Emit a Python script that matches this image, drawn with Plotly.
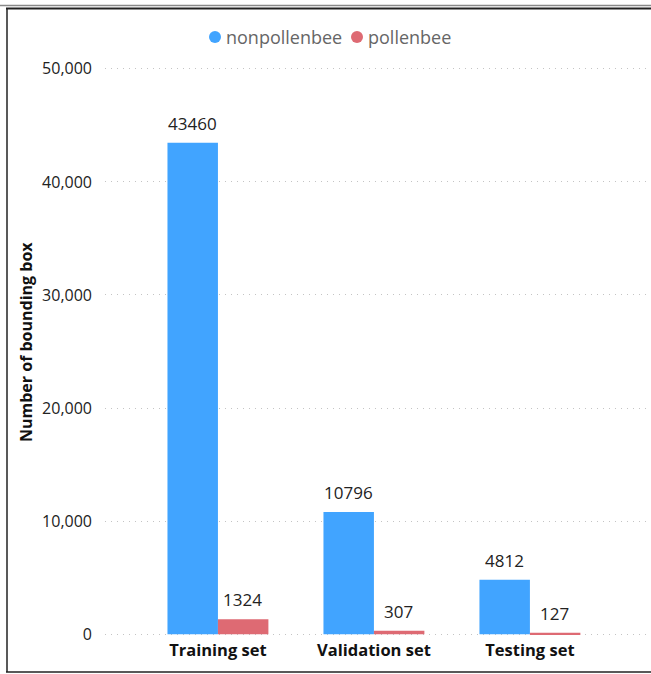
import plotly.graph_objects as go

# Bounding-box counts per dataset split
splits = ["Training set", "Validation set", "Testing set"]
nonpollenbee = [43460, 10796, 4812]
pollenbee = [1324, 307, 127]
y_ticks = [0, 10000, 20000, 30000, 40000, 50000]

BLUE = "#41A4FF"
RED = "#DE6A73"
FONT = "Open Sans, Noto Sans, sans-serif"

W, H = 651, 674
L, R, T, B = 105, 3, 66, 37
pw, ph = W - L - R, H - T - B


def px(x):
    return (x - L) / pw


def py(y):
    return (H - B - y) / ph


series = [("nonpollenbee", nonpollenbee, BLUE, -25), ("pollenbee", pollenbee, RED, 25)]

fig = go.Figure()
annotations = []
for name, vals, col, shift in series:
    fig.add_trace(go.Bar(
        name=name, x=splits, y=vals, marker_color=col, marker_line_width=0,
        showlegend=False,
    ))
    # value labels above each bar
    for cat, v in zip(splits, vals):
        annotations.append(dict(
            x=cat, y=v, xref="x", yref="y", text=str(v), showarrow=False,
            xshift=shift, yshift=6, yanchor="bottom",
            font=dict(family=FONT, size=17, color="#222222"),
        ))

shapes = [
    # outer frame lines
    dict(type="line", xref="paper", yref="paper", x0=px(0), x1=px(W), y0=py(5.5), y1=py(5.5),
         line=dict(color="#888888", width=1.5)),
    dict(type="line", xref="paper", yref="paper", x0=px(6), x1=px(W), y0=py(8.5), y1=py(8.5),
         line=dict(color="#222222", width=2)),
    dict(type="line", xref="paper", yref="paper", x0=px(7), x1=px(7), y0=py(8), y1=py(672),
         line=dict(color="#222222", width=1.5)),
    dict(type="line", xref="paper", yref="paper", x0=px(6), x1=px(W), y0=py(672), y1=py(672),
         line=dict(color="#222222", width=1.5)),
]

# legend drawn as round swatches with labels along the top
legend_items = [("nonpollenbee", BLUE, 215), ("pollenbee", RED, 357)]
for name, col, cx in legend_items:
    shapes.append(dict(type="circle", xref="paper", yref="paper",
                       x0=px(cx - 6), x1=px(cx + 6), y0=py(37 + 6), y1=py(37 - 6),
                       fillcolor=col, line=dict(width=0)))
    annotations.append(dict(x=px(cx + 9), y=py(37), xref="paper", yref="paper",
                            text=name, showarrow=False, xanchor="left", yanchor="middle",
                            font=dict(family=FONT, size=18, color="#666666")))

# vertical axis title
annotations.append(dict(x=px(26), y=py(342), xref="paper", yref="paper",
                        text="<b>Number of bounding box</b>", showarrow=False, textangle=-90,
                        xanchor="center", yanchor="middle",
                        font=dict(family=FONT, size=16, color="#111111")))

fig.update_layout(
    width=W, height=H,
    margin=dict(l=L, r=R, t=T, b=B),
    paper_bgcolor="white", plot_bgcolor="white",
    barmode="group", bargap=0.353, bargroupgap=0,
    font=dict(family=FONT, size=15, color="#222222"),
    showlegend=False,
    xaxis=dict(range=[-0.724, 2.757], showgrid=False, zeroline=False, showline=False,
               ticks="", ticklabelstandoff=1,
               tickfont=dict(family=FONT, size=16.5, color="#111111", weight="bold")),
    yaxis=dict(range=[-250, 50250], tickvals=y_ticks, tickformat=",", showgrid=True,
               gridcolor="#C4C4C4", griddash="1px,5px", gridwidth=1, zeroline=False,
               showline=False, ticks="", ticklabelstandoff=12,
               tickfont=dict(family=FONT, size=16, color="#222222")),
    shapes=shapes,
    annotations=annotations,
)

fig.write_html("out.html")
